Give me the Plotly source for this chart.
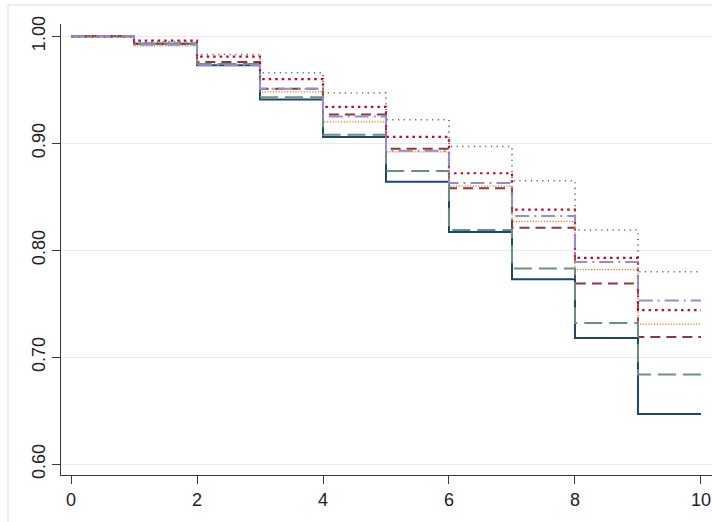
import plotly.graph_objects as go

# Interval start times and end time
times = [0, 1, 2, 3, 4, 5, 6, 7, 8, 9]
end_time = 10

# Survival estimates per interval
navy_s = [1.000, 0.993, 0.973, 0.941, 0.906, 0.864, 0.817, 0.773, 0.718, 0.647]
teal_s = [1.000, 0.993, 0.974, 0.943, 0.908, 0.874, 0.819, 0.783, 0.732, 0.684]
maroon_s = [1.000, 0.993, 0.976, 0.951, 0.927, 0.895, 0.858, 0.821, 0.769, 0.719]
orange_s = [1.000, 0.991, 0.974, 0.948, 0.920, 0.892, 0.860, 0.827, 0.782, 0.731]
cranberry_s = [1.000, 0.996, 0.981, 0.960, 0.934, 0.906, 0.872, 0.838, 0.793, 0.744]
lavender_s = [1.000, 0.992, 0.973, 0.951, 0.925, 0.893, 0.863, 0.832, 0.789, 0.753]
green_s = [1.000, 0.995, 0.983, 0.966, 0.947, 0.922, 0.897, 0.865, 0.819, 0.780]

y_ticks = [0.60, 0.70, 0.80, 0.90, 1.00]
y_ticklabels = ["0.60", "0.70", "0.80", "0.90", "1.00"]
x_ticks = [0, 2, 4, 6, 8, 10]

series = [
    ("navy", navy_s, "#1a476f", "solid", 2.0),
    ("maroon", maroon_s, "#90353b", "10px,6px", 2.0),
    ("green", green_s, "#55752f", "1.2px,4.5px", 1.6),
    ("orange", orange_s, "#e37e00", "1.2px,1.6px", 1.3),
    ("teal", teal_s, "#6e8e84", "18px,7px", 2.0),
    ("cranberry", cranberry_s, "#c10534", "2.5px,4px", 2.2),
    ("lavender", lavender_s, "#938dd2", "14px,5px,2px,5px", 2.0),
]

fig = go.Figure()
for name, vals, color, dash, w in series:
    fig.add_trace(go.Scatter(
        x=times + [end_time], y=vals + [vals[-1]],
        mode="lines", line=dict(shape="hv", color=color, dash=dash, width=w),
        name=name, showlegend=False, hoverinfo="skip"))

axis_col = "#3a3a3a"
fig.update_layout(
    width=712, height=522,
    margin=dict(l=61, r=0, t=24, b=47),
    paper_bgcolor="white", plot_bgcolor="white",
    font=dict(family="Liberation Sans, Arial, sans-serif", size=18, color="#222"),
    xaxis=dict(range=[-0.159, 10.175], tickvals=x_ticks, showgrid=False,
               showline=True, linecolor=axis_col, linewidth=1.3,
               ticks="outside", ticklen=8, tickcolor=axis_col, tickwidth=1.2,
               zeroline=False),
    yaxis=dict(range=[0.590, 1.0115], tickvals=y_ticks, ticktext=y_ticklabels,
               tickangle=-90, showgrid=True, gridcolor="#e4eced", gridwidth=1.2,
               showline=True, linecolor=axis_col, linewidth=1.3,
               ticks="outside", ticklen=8, tickcolor=axis_col, tickwidth=1.2,
               zeroline=False),
    shapes=[
        dict(type="line", xref="paper", yref="paper", x0=-0.0814, x1=1.0,
             y0=1.042, y1=1.042, line=dict(color="#e3e7e9", width=1.5)),
        dict(type="line", xref="paper", yref="paper", x0=-0.0814, x1=-0.0814,
             y0=1.042, y1=-0.11, line=dict(color="#e3e7e9", width=1.5)),
    ],
)

fig.write_html("out.html", config={"displayModeBar": False},
               post_script="document.body.style.margin='0';document.body.style.overflow='hidden';")
